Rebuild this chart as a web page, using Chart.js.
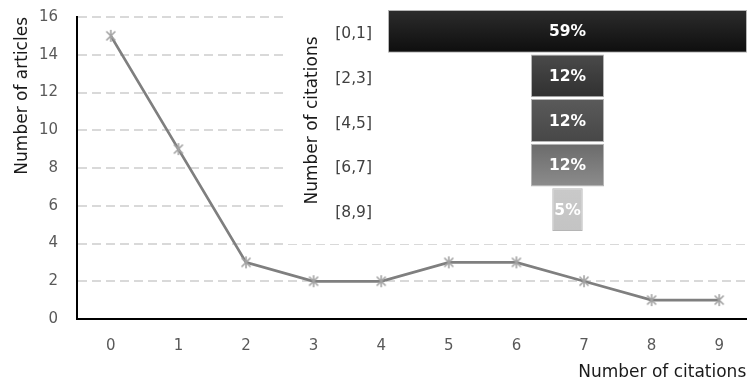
<!DOCTYPE html>
<html>
<head>
<meta charset="utf-8">
<title>Citations per article</title>
<script src="https://cdn.jsdelivr.net/npm/chart.js@4.4.1/dist/chart.umd.min.js"></script>
<style>
  body { margin: 0; background: #fff; }
  #wrap { position: relative; width: 756px; height: 390px; overflow: hidden; }
  #mainChart { position: absolute; left: 0; top: 0; }
  #funnelChart { position: absolute; left: 285px; top: 0; background: #fff; }
</style>
</head>
<body>
<div id="wrap">
  <canvas id="mainChart" width="756" height="390"></canvas>
  <canvas id="funnelChart" width="471" height="244"></canvas>
</div>
<script>
// ---- data ----
const citations = ['0', '1', '2', '3', '4', '5', '6', '7', '8', '9'];
const articles = [15, 9, 3, 2, 2, 3, 3, 2, 1, 1];

const ranges = ['[0,1]', '[2,3]', '[4,5]', '[6,7]', '[8,9]'];
const shares = [59, 12, 12, 12, 5];

// ---- styles ----
const FONT = '"DejaVu Sans"';
const funnelShades = [
  ['#2c2c2c', '#0e0e0e'],
  ['#4a4a4a', '#303030'],
  ['#5a5a5a', '#474747'],
  ['#6b6b6b', '#8c8c8c'],
  ['#c9c9c9', '#c4c4c4']
];

// asterisk marker (x plus vertical stroke)
function makeStar(size, color) {
  const c = document.createElement('canvas');
  c.width = c.height = size;
  const g = c.getContext('2d');
  const m = size / 2, r = size / 2 - 1, d = r * 0.75;
  g.strokeStyle = color;
  g.lineWidth = 1.6;
  g.beginPath();
  g.moveTo(m - d, m - d); g.lineTo(m + d, m + d);
  g.moveTo(m + d, m - d); g.lineTo(m - d, m + d);
  g.moveTo(m, m - r); g.lineTo(m, m + r);
  g.stroke();
  return c;
}

// drop the label overhang chart.js reserves, so layout padding alone sets the plot area
function noOverhang(s) {
  s.paddingTop = 0; s.paddingBottom = 0;
  s.paddingLeft = 0; s.paddingRight = 0;
}

// ---- line chart ----
new Chart(document.getElementById('mainChart'), {
  type: 'line',
  data: {
    datasets: [{
      data: articles.map((v, i) => ({ x: i, y: v })),
      borderColor: '#7f7f7f',
      borderWidth: 2.75,
      pointStyle: makeStar(14, '#a3a3a3'),
      pointRadius: 7,
      tension: 0
    }]
  },
  options: {
    responsive: false,
    animation: false,
    layout: { padding: { top: 17, right: 0, bottom: 0, left: 0 } },
    plugins: { legend: { display: false }, tooltip: { enabled: false } },
    scales: {
      x: {
        type: 'linear',
        min: -0.5,
        max: 9.4,
        afterBuildTicks: s => { s.ticks = citations.map((c, i) => ({ value: i })); },
        afterFit: s => { s.height = 71; noOverhang(s); },
        grid: { display: false },
        border: { color: '#000', width: 2 },
        ticks: {
          padding: 10,
          color: '#595959',
          font: { family: FONT, size: 15 },
          callback: v => citations[v]
        },
        title: {
          display: true,
          text: 'Number of citations',
          align: 'end',
          color: '#1a1a1a',
          font: { family: FONT, size: 17 },
          padding: { top: 0, bottom: 7 }
        }
      },
      y: {
        min: 0,
        max: 16,
        afterFit: s => { s.width = 77; noOverhang(s); },
        grid: { color: '#d9d9d9', lineWidth: 2, drawTicks: false },
        border: { color: '#000', width: 2, dash: [9, 5] },
        ticks: {
          stepSize: 2,
          padding: 19,
          color: '#595959',
          font: { family: FONT, size: 15 }
        },
        title: {
          display: true,
          text: 'Number of articles',
          align: 'end',
          color: '#1a1a1a',
          font: { family: FONT, size: 17 },
          padding: { top: 12 }
        }
      }
    }
  }
});

// ---- funnel inset ----
const shareLabels = {
  id: 'shareLabels',
  afterDatasetsDraw(chart) {
    const { ctx } = chart;
    const meta = chart.getDatasetMeta(0);
    ctx.save();
    ctx.font = `bold 15.5px ${FONT}`;
    ctx.fillStyle = '#fff';
    ctx.textAlign = 'center';
    ctx.textBaseline = 'middle';
    meta.data.forEach((bar, i) => {
      const { x, y } = bar.getCenterPoint();
      ctx.fillText(shares[i] + '%', x, y + 1);
    });
    ctx.restore();
  }
};

function barGradient(context) {
  const chart = context.chart;
  const i = context.dataIndex;
  const shade = funnelShades[i] || ['#888', '#888'];
  if (!chart.chartArea || !chart.scales.y) return shade[0];
  const yc = chart.scales.y.getPixelForValue(i);
  const g = chart.ctx.createLinearGradient(0, yc - 21, 0, yc + 21);
  g.addColorStop(0, shade[0]);
  g.addColorStop(1, shade[1]);
  return g;
}

new Chart(document.getElementById('funnelChart'), {
  type: 'bar',
  data: {
    labels: ranges,
    datasets: [{
      data: shares.map(v => [-v / 2, v / 2]),
      backgroundColor: barGradient,
      borderColor: '#b5b5b5',
      borderWidth: 1,
      borderSkipped: false,
      barPercentage: 0.96,
      categoryPercentage: 1
    }]
  },
  options: {
    indexAxis: 'y',
    responsive: false,
    animation: false,
    layout: { padding: { top: 9, right: 9, bottom: 12, left: 0 } },
    plugins: { legend: { display: false }, tooltip: { enabled: false } },
    scales: {
      x: { display: false, min: -29.5, max: 29.5 },
      y: {
        afterFit: s => { s.width = 103; noOverhang(s); },
        grid: { display: false },
        border: { display: false },
        ticks: {
          padding: 8,
          labelOffset: 3,
          color: '#404040',
          font: { family: FONT, size: 15.5 }
        },
        title: {
          display: true,
          text: 'Number of citations',
          color: '#1a1a1a',
          font: { family: FONT, size: 17 },
          padding: { top: 17 }
        }
      }
    }
  },
  plugins: [shareLabels]
});
</script>
</body>
</html>
